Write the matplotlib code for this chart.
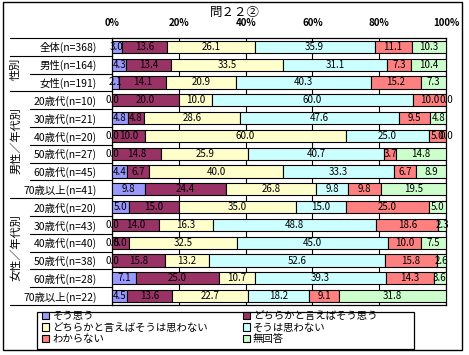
import matplotlib
matplotlib.use("Agg")
import matplotlib.pyplot as plt
from matplotlib.patches import Patch, Rectangle
from matplotlib.transforms import blended_transform_factory

plt.rcParams['font.family'] = ['Noto Sans CJK JP', 'DejaVu Sans']

title = "問２２②"
rows = ["全体(n=368)", "男性(n=164)", "女性(n=191)",
        "20歳代(n=10)", "30歳代(n=21)", "40歳代(n=20)", "50歳代(n=27)",
        "60歳代(n=45)", "70歳以上(n=41)",
        "20歳代(n=20)", "30歳代(n=43)", "40歳代(n=40)", "50歳代(n=38)",
        "60歳代(n=28)", "70歳以上(n=22)"]
series = ["そう思う", "どちらかと言えばそう思う", "どちらかと言えばそうは思わない",
          "そうは思わない", "わからない", "無回答"]
colors = ["#9999FF", "#993366", "#FFFFCC", "#CCFFFF", "#FF8080", "#CCFFCC"]

agree = [3.0, 4.3, 2.1, 0.0, 4.8, 0.0, 0.0, 4.4, 9.8, 5.0, 0.0, 0.0, 0.0, 7.1, 4.5]
rather_agree = [13.6, 13.4, 14.1, 20.0, 4.8, 10.0, 14.8, 6.7, 24.4, 15.0, 14.0, 5.0, 15.8, 25.0, 13.6]
rather_not = [26.1, 33.5, 20.9, 10.0, 28.6, 60.0, 25.9, 40.0, 26.8, 35.0, 16.3, 32.5, 13.2, 10.7, 22.7]
disagree = [35.9, 31.1, 40.3, 60.0, 47.6, 25.0, 40.7, 33.3, 9.8, 15.0, 48.8, 45.0, 52.6, 39.3, 18.2]
dont_know = [11.1, 7.3, 15.2, 10.0, 9.5, 5.0, 3.7, 6.7, 9.8, 25.0, 18.6, 10.0, 15.8, 14.3, 9.1]
no_answer = [10.3, 10.4, 7.3, 0.0, 4.8, 0.0, 14.8, 8.9, 19.5, 5.0, 2.3, 7.5, 2.6, 3.6, 31.8]

groups = [("性別", 1, 2), ("男性／年代別", 3, 8), ("女性／年代別", 9, 14)]
xticks = [0, 20, 40, 60, 80, 100]

values = [agree, rather_agree, rather_not, disagree, dont_know, no_answer]
n = len(rows)

fig = plt.figure(figsize=(4.69, 3.55), dpi=100)
ax = fig.add_axes([0.2388, 0.1408, 0.951 - 0.2388, 0.893 - 0.1408])

# outer frame of the whole chart
fig.add_artist(Rectangle((3 / 469, 1 - 350 / 355), 459 / 469, 348 / 355,
                         transform=fig.transFigure, fill=False,
                         edgecolor="black", linewidth=1.0))

ypos = list(range(n))
left = [0.0] * n
for vals, col in zip(values, colors):
    ax.barh(ypos, vals, left=left, height=0.68, color=col,
            edgecolor="black", linewidth=0.8, zorder=3)
    for i, v in enumerate(vals):
        ax.text(left[i] + v / 2, i, f"{v:.1f}", ha="center", va="center",
                fontsize=7, zorder=4, clip_on=False)
    left = [a + b for a, b in zip(left, vals)]

ax.set_xlim(0, 100)
ax.set_ylim(n - 0.5, -0.5)
ax.xaxis.tick_top()
ax.set_xticks(xticks)
ax.set_xticklabels([f"{t}%" for t in xticks], fontsize=7, fontweight="bold")
ax.tick_params(axis="x", length=0, pad=7)
ax.set_yticks(ypos)
ax.set_yticklabels(rows, fontsize=7.5)
ax.tick_params(axis="y", length=0, pad=11)
ax.grid(axis="x", color="black", linewidth=0.8, zorder=0)
for s in ax.spines.values():
    s.set_linewidth(0.9)

# left-side table lines and group labels
tr = blended_transform_factory(fig.transFigure, ax.transData)
x_group = 10 / 469
x_row = 30 / 469
x_axis = 112 / 469
bounds = [-0.5] + [g[1] - 0.5 for g in groups] + [n - 0.5]
for b in range(n + 1):
    y = b - 0.5
    x0 = x_group if y in bounds else x_row
    ax.plot([x0, x_axis], [y, y], transform=tr, color="black",
            linewidth=0.8, clip_on=False)
for label, r0, r1 in groups:
    ax.text(16 / 469, (r0 + r1) / 2 - 0.25, label, transform=tr, rotation=90,
            ha="center", va="center", fontsize=8)

fig.text(0.5, 1 - 12 / 355, title, ha="center", va="center", fontsize=9)

# legend (row-major order as in the reference)
handles = [Patch(facecolor=c, edgecolor="black", linewidth=0.8) for c in colors]
order = [0, 2, 4, 1, 3, 5]
fig.legend([handles[k] for k in order], [series[k] for k in order],
           ncol=2, frameon=False, fontsize=7.5,
           loc="upper left", bbox_to_anchor=(40 / 469, 1 - 309 / 355),
           handlelength=0.7, handleheight=0.7, handletextpad=0.3,
           columnspacing=3.3, labelspacing=0.15, borderaxespad=0, borderpad=0.2)
fig.add_artist(Rectangle((37 / 469, 1 - 349 / 355), 377 / 469, 37 / 355,
                         transform=fig.transFigure, fill=False,
                         edgecolor="black", linewidth=0.9))

fig.savefig("out.png", dpi=100)
